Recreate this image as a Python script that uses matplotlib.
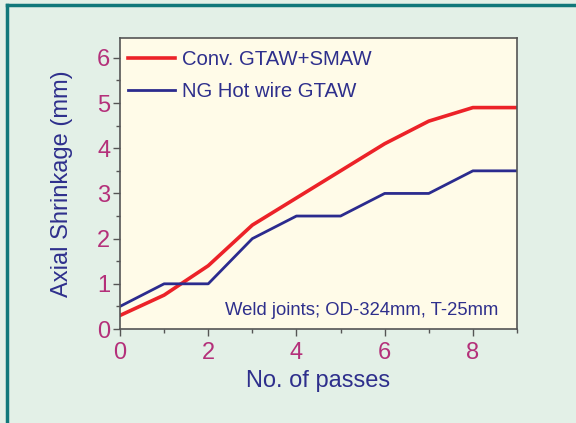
import matplotlib
matplotlib.use('Agg')
import matplotlib.pyplot as plt
from matplotlib.lines import Line2D
from matplotlib.ticker import MultipleLocator

plt.rcParams['font.family'] = ['Liberation Sans', 'DejaVu Sans']

# data
passes = [0, 1, 2, 3, 4, 5, 6, 7, 8, 9]
conv_gtaw_smaw = [0.3, 0.75, 1.4, 2.3, 2.9, 3.5, 4.1, 4.6, 4.9, 4.9]
ng_hot_wire = [0.5, 1.0, 1.0, 2.0, 2.5, 2.5, 3.0, 3.0, 3.5, 3.5]

bg = '#e3f0e7'
navy = '#2e2f8c'
pink = '#b4307a'

fig = plt.figure(figsize=(5.76, 4.23), dpi=100, facecolor=bg)
ax = fig.add_axes([120/576, 1-329/423, 397/576, 291/423])
ax.set_facecolor('#fffbe8')

ax.plot(passes, conv_gtaw_smaw, color='#ec2228', lw=2.6, label='Conv. GTAW+SMAW')
ax.plot(passes, ng_hot_wire, color='#2b2b8e', lw=2.0, label='NG Hot wire GTAW')

ax.set_xlim(0, 9)
ax.set_ylim(0, 6.44)
ax.xaxis.set_major_locator(MultipleLocator(2))
ax.xaxis.set_minor_locator(MultipleLocator(1))
ax.yaxis.set_major_locator(MultipleLocator(1))
ax.yaxis.set_minor_locator(MultipleLocator(0.5))
ax.tick_params(which='both', direction='out', color='#555555', labelcolor=pink,
               labelsize=17, width=1)
ax.tick_params(which='major', length=5, pad=2)
ax.tick_params(axis='x', which='major', pad=4)
ax.tick_params(which='minor', length=3)
for s in ax.spines.values():
    s.set_color('#555555')
    s.set_linewidth(1.2)

ax.set_xlabel('No. of passes', color=navy, fontsize=17, labelpad=5)
ax.set_ylabel('Axial Shrinkage (mm)', color=navy, fontsize=17, labelpad=17)

leg = ax.legend(loc='upper left', frameon=False, fontsize=14.6, handlelength=2.3,
                handletextpad=0.35, labelspacing=0.62, borderaxespad=0.0,
                bbox_to_anchor=(0.0, 0.985))
for t in leg.get_texts():
    t.set_color(navy)

ax.text(0.952, 0.065, 'Weld joints; OD-324mm, T-25mm', transform=ax.transAxes,
        ha='right', va='center', color=navy, fontsize=13.3)

# teal frame at top and left
fig.add_artist(Line2D([7/576, 7/576], [0, 1-5/423], transform=fig.transFigure,
                      color='#10787a', lw=2.5))
fig.add_artist(Line2D([7/576, 1], [1-5/423, 1-5/423], transform=fig.transFigure,
                      color='#10787a', lw=2.5))

fig.savefig('out.png', dpi=100, facecolor=bg)
